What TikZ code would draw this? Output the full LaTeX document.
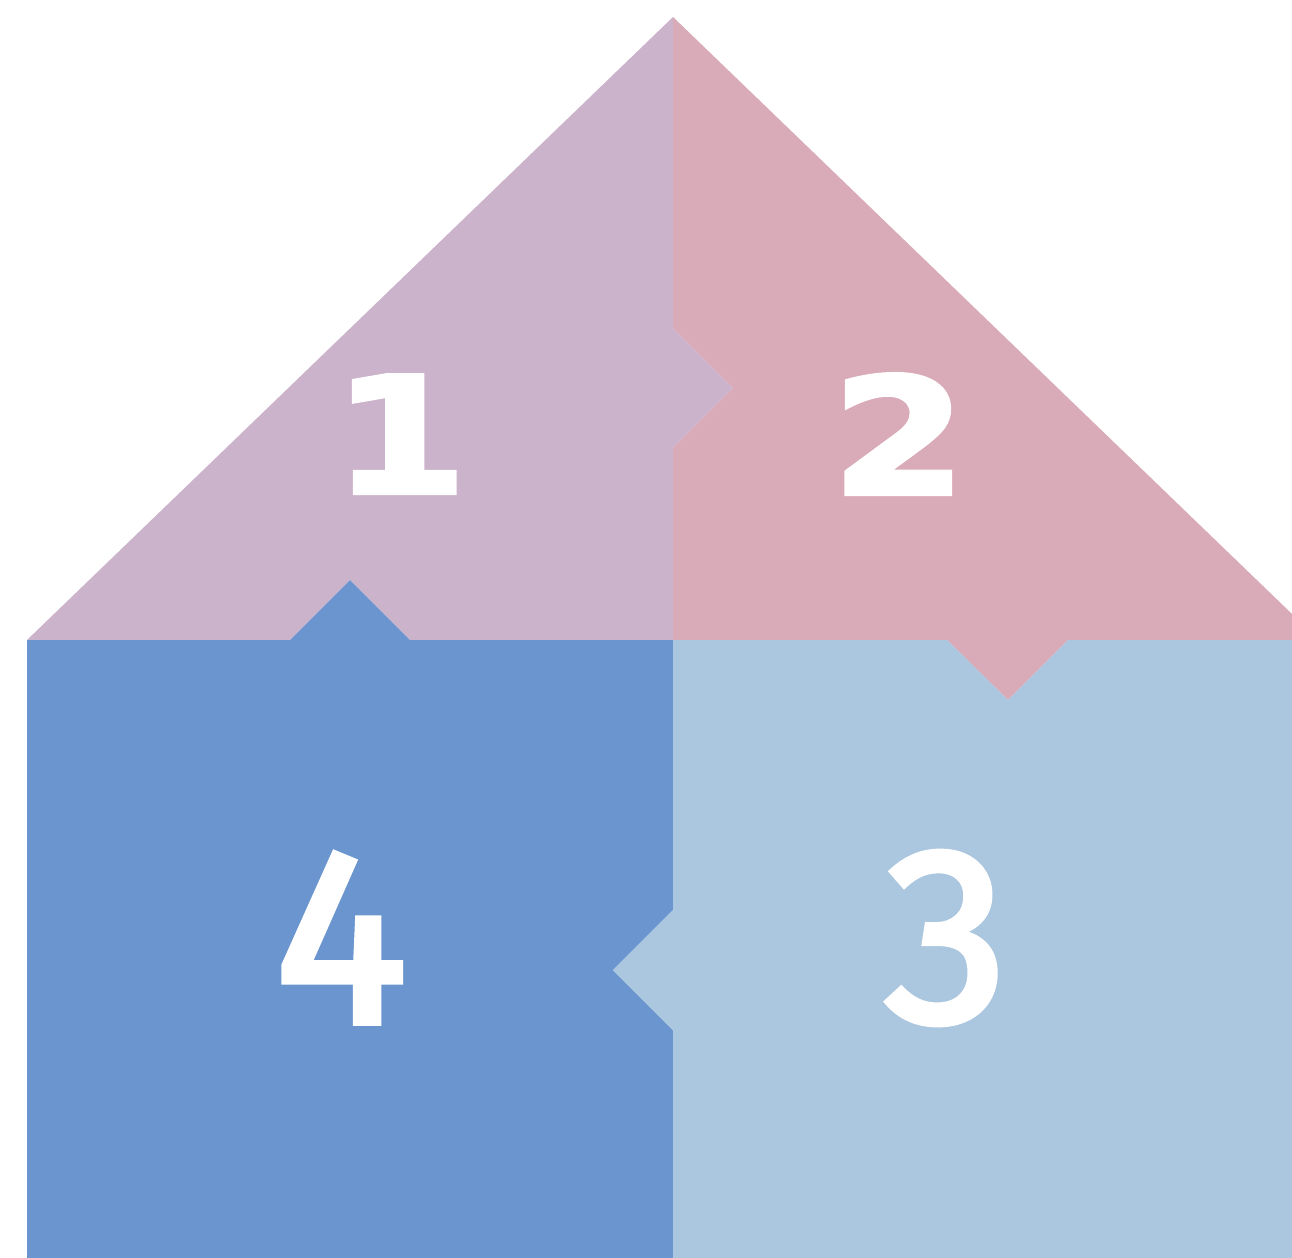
\documentclass[tikz,border=0pt]{standalone}
\usepackage{fontspec}
\usepackage{graphicx}
\newfontfamily\roofdigits[FakeBold=2.5]{DejaVu Sans Bold}
\newfontfamily\walldigits[FakeBold=2.5]{Fira Sans}
\usepackage{tikz}
\usepackage{xcolor}
\definecolor{roofleft}{HTML}{CBB3CB}
\definecolor{roofright}{HTML}{D9AAB7}
\definecolor{wallright}{HTML}{ABC6DF}
\definecolor{wallleft}{HTML}{6B95CE}

\begin{document}
\begin{tikzpicture}[x=0.01cm, y=-0.01cm,
    piece/.style={draw=none},
    numsmall/.style={text=white, font=\roofdigits\fontsize{46}{46}\selectfont, inner sep=0pt},
    numbig/.style={text=white, font=\walldigits\fontsize{71}{71}\selectfont, inner sep=0pt}]
        \useasboundingbox (0,0) rectangle (1292,1257);
        \clip (0,0) rectangle (1292,1257);

        % Points
        \coordinate (apex) at (673,17);
        \coordinate (eaveL) at (27,640);
        \coordinate (eaveR) at (1319,640);
        \coordinate (mid) at (673,640);
        \coordinate (floorL) at (27,1300);
        \coordinate (floorM) at (673,1300);
        \coordinate (floorR) at (1340,1300);

        % Roof, left half (tab pointing right)
        \fill[piece, roofleft] (apex) -- (673,328) -- (733,388) -- (673,448) -- (mid)
            -- (410,640) -- (350,580) -- (290,640) -- (eaveL) -- cycle;

        % Roof, right half (tab pointing down)
        \fill[piece, roofright] (apex) -- (eaveR) -- (1068,640) -- (1008,700) -- (947,640)
            -- (mid) -- (673,448) -- (733,388) -- (673,328) -- cycle;

        % Wall, left half (tab pointing up)
        \fill[piece, wallleft] (eaveL) -- (290,640) -- (350,580) -- (410,640) -- (mid)
            -- (673,910) -- (613,970) -- (673,1030) -- (floorM) -- (floorL) -- cycle;

        % Wall, right half (tab pointing left)
        \fill[piece, wallright] (mid) -- (947,640) -- (1008,700) -- (1068,640) -- (1340,640)
            -- (floorR) -- (floorM) -- (673,1030) -- (613,970) -- (673,910) -- cycle;

        % Numbers
        \node[numsmall] (one) at (400,434) {\scalebox{1.2}[1]{1}};
        \node[numsmall] (two) at (899,434) {\scalebox{1.2}[1]{2}};
        \node[numbig] (three) at (946,938) {3};
        \node[numbig] (four) at (341,938) {4};
      \end{tikzpicture}
\end{document}
